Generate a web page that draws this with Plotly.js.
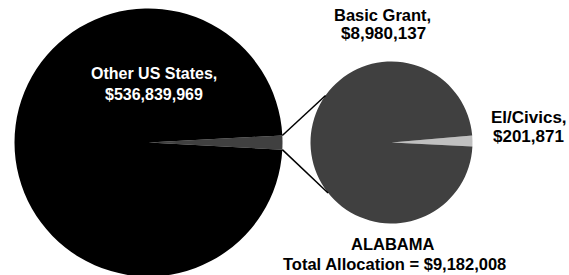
<!DOCTYPE html>
<html>
<head>
<meta charset="utf-8">
<script src="https://cdn.plot.ly/plotly-3.0.1.min.js"></script>
<style>
html, body { margin: 0; padding: 0; overflow: hidden; background: #fff; }
#chart { width: 569px; height: 285px; }
</style>
</head>
<body>
<div id="chart"></div>
<script>
// ---- data ----
const overviewLabels = ["ALABAMA", "Other US States"];
const overviewValues = [9182008, 536839969];
const alabamaLabels = ["El/Civics", "Basic Grant"];
const alabamaValues = [201871, 8980137];
const stateName = "ALABAMA";

// ---- layout constants ----
const W = 569, H = 285;
const px = x => x / W;
const py = y => 1 - y / H;
const FONT = "Liberation Sans, Arial, sans-serif";

// pie geometry (pixels)
const big = { cx: 148.5, cy: 142.5, r: 134, rot: 87 };
const small = { cx: 391.5, cy: 142.5, r: 81, rot: 85 };
const domainOf = p => ({
  x: [px(p.cx - p.r), px(p.cx + p.r)],
  y: [py(p.cy + p.r), py(p.cy - p.r)]
});

const fmt = v => "$" + v.toLocaleString("en-US");

const traces = [
  {
    type: "pie",
    labels: overviewLabels,
    values: overviewValues,
    sort: false,
    direction: "clockwise",
    rotation: big.rot,
    domain: domainOf(big),
    marker: { colors: ["#404040", "#000000"], line: { width: 0 } },
    textinfo: "none",
    hoverinfo: "label+value",
    showlegend: false
  },
  {
    type: "pie",
    labels: alabamaLabels,
    values: alabamaValues,
    sort: false,
    direction: "clockwise",
    rotation: small.rot,
    domain: domainOf(small),
    marker: { colors: ["#c0c0c0", "#404040"], line: { width: 0 } },
    textinfo: "none",
    hoverinfo: "label+value",
    showlegend: false
  }
];

// connector lines from the state's slice edges to the detail pie
const totalAll = overviewValues.reduce((a, b) => a + b, 0);
const sliceSpan = 360 * overviewValues[0] / totalAll;
const ptOn = (p, deg) => {
  const a = deg * Math.PI / 180;
  return [p.cx + p.r * Math.sin(a), p.cy - p.r * Math.cos(a)];
};
const bTop = ptOn(big, big.rot), bBot = ptOn(big, big.rot + sliceSpan);
const sTop = ptOn(small, 305.5), sBot = ptOn(small, 231.5);
const line = (a, b) => ({
  type: "line", xref: "paper", yref: "paper",
  x0: px(a[0]), y0: py(a[1]), x1: px(b[0]), y1: py(b[1]),
  line: { color: "#000", width: 1.5 }
});

const ann = (text, x, y, size, color) => ({
  text: "<b>" + text + "</b>",
  xref: "paper", yref: "paper",
  x: px(x), y: py(y), xanchor: "center", yanchor: "middle",
  showarrow: false,
  font: { family: FONT, size: size, color: color }
});

const total = alabamaValues.reduce((a, b) => a + b, 0);

const layout = {
  width: W, height: H,
  margin: { l: 0, r: 0, t: 0, b: 0 },
  paper_bgcolor: "#ffffff",
  showlegend: false,
  shapes: [line(bTop, sTop), line(bBot, sBot)],
  annotations: [
    ann(overviewLabels[1] + ",", 153.5, 74, 16, "#ffffff"),
    ann(fmt(overviewValues[1]), 153.5, 94, 16, "#ffffff"),
    ann(alabamaLabels[1] + ",", 382, 15, 16.5, "#000000"),
    ann(fmt(alabamaValues[1]), 383, 33.5, 17, "#000000"),
    ann(alabamaLabels[0] + ",", 529, 118, 17, "#000000"),
    ann(fmt(alabamaValues[0]), 528.5, 136.5, 17, "#000000"),
    ann(stateName, 392, 243.5, 16.5, "#000000"),
    ann("Total Allocation = " + fmt(total), 394.5, 263.5, 16.5, "#000000")
  ]
};

Plotly.newPlot("chart", traces, layout, { displayModeBar: false, staticPlot: true });
</script>
</body>
</html>
